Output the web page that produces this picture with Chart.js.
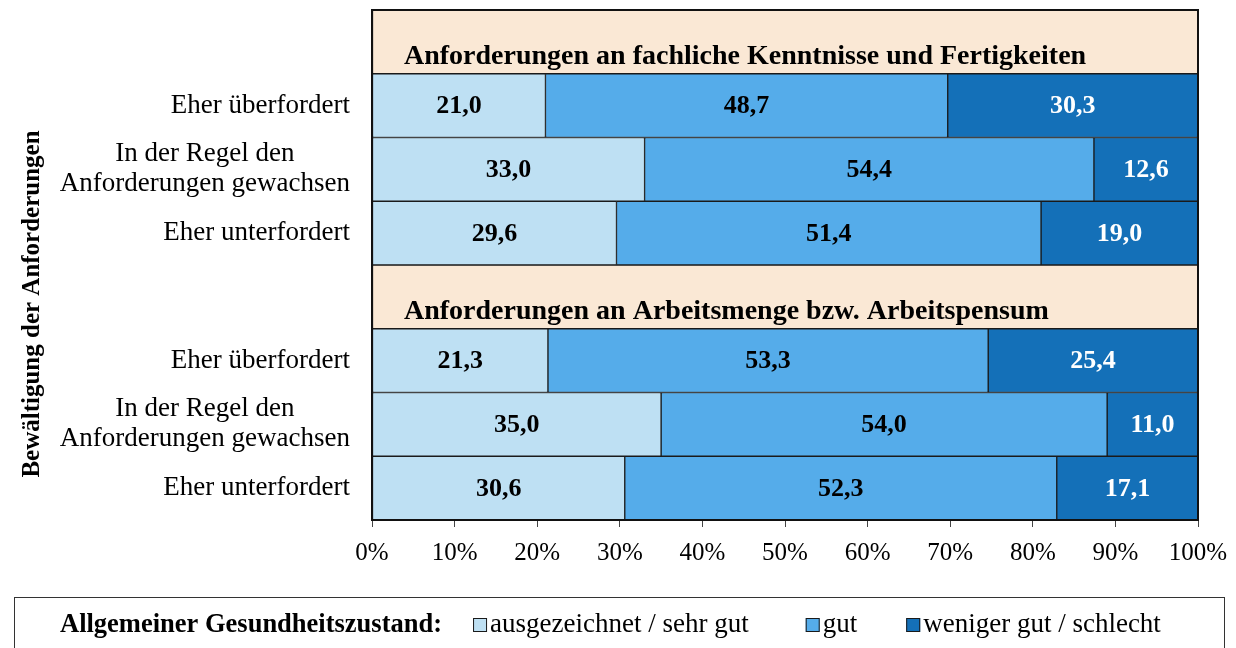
<!DOCTYPE html>
<html>
<head>
<meta charset="utf-8">
<script src="https://cdn.jsdelivr.net/npm/chart.js@4"></script>
<style>
  html, body { margin: 0; padding: 0; background: #fff; }
  #wrap { width: 1236px; height: 648px; }
</style>
</head>
<body>
<div id="wrap"><canvas id="chart" width="1236" height="648"></canvas></div>
<script>
// rows of the chart, top to bottom; "" marks a group header row
const rowLabels = [
  "",
  "Eher überfordert",
  ["In der Regel den", "Anforderungen gewachsen"],
  "Eher unterfordert",
  "",
  "Eher überfordert",
  ["In der Regel den", "Anforderungen gewachsen"],
  "Eher unterfordert",
];
const groupTitles = [
  "Anforderungen an fachliche Kenntnisse und Fertigkeiten",
  "Anforderungen an Arbeitsmenge bzw. Arbeitspensum",
];
const seriesNames = ["ausgezeichnet / sehr gut", "gut", "weniger gut / schlecht"];
const sehrGut = [21.0, 33.0, 29.6, 21.3, 35.0, 30.6];
const gut = [48.7, 54.4, 51.4, 53.3, 54.0, 52.3];
const schlecht = [30.3, 12.6, 19.0, 25.4, 11.0, 17.1];
const xTicks = [0, 10, 20, 30, 40, 50, 60, 70, 80, 90, 100];
const legendTitle = "Allgemeiner Gesundheitszustand:";
const axisTitle = "Bewältigung der Anforderungen";

const colors = ["#bee0f3", "#55acea", "#1470b8"];
const headerColor = "#fae8d5";
const edge = "#1a1a1a";
const serif = "'Liberation Serif', 'Times New Roman', serif";

// put the values into the non-header rows
function spread(values) {
  let k = 0;
  return rowLabels.map((l) => (l === "" ? null : values[k++]));
}
const headerRow = rowLabels.map((l) => (l === "" ? 100 : null));

const fmt = (v) => v.toFixed(1).replace(".", ",");

const decorations = {
  id: "decorations",
  afterDatasetsDraw(chart) {
    const ctx = chart.ctx;
    const area = chart.chartArea;
    const yScale = chart.scales.y;
    const rowH = (area.bottom - area.top) / rowLabels.length;

    ctx.save();
    // value labels inside the segments
    ctx.textAlign = "center";
    ctx.textBaseline = "middle";
    ctx.font = "bold 26px " + serif;
    for (let d = 0; d < 3; d++) {
      const meta = chart.getDatasetMeta(d);
      meta.data.forEach((bar, i) => {
        const v = chart.data.datasets[d].data[i];
        if (v == null) return;
        ctx.fillStyle = d === 2 ? "#ffffff" : "#000000";
        ctx.fillText(fmt(v), (bar.x + bar.base) / 2, bar.y + 1);
      });
    }

    // group header titles
    ctx.textAlign = "left";
    ctx.font = "bold 28px " + serif;
    ctx.fillStyle = "#000";
    let g = 0;
    rowLabels.forEach((l, i) => {
      if (l !== "") return;
      const y = yScale.getPixelForValue(i);
      ctx.fillText(groupTitles[g++], area.left + 32, y + rowH / 2 - 17);
    });

    // row labels
    ctx.font = "27px " + serif;
    const right = area.left - 22;
    rowLabels.forEach((l, i) => {
      if (l === "") return;
      const y = yScale.getPixelForValue(i);
      const lines = Array.isArray(l) ? l : [l];
      const w = Math.max(...lines.map((s) => ctx.measureText(s).width));
      const lh = 30;
      lines.forEach((s, j) => {
        const ly = y + (j - (lines.length - 1) / 2) * lh;
        ctx.textAlign = "center";
        ctx.fillText(s, right - w / 2, ly);
      });
    });

    // frame around the plot
    ctx.strokeStyle = "#111";
    ctx.lineWidth = 2;
    ctx.strokeRect(area.left, area.top, area.right - area.left, area.bottom - area.top);

    // vertical axis title
    ctx.save();
    ctx.translate(33, 304);
    ctx.rotate(-Math.PI / 2);
    ctx.textAlign = "center";
    ctx.font = "bold 25px " + serif;
    ctx.fillText(axisTitle, 0, 0);
    ctx.restore();

    // legend box
    ctx.strokeStyle = "#333";
    ctx.lineWidth = 1;
    ctx.strokeRect(14.5, 597.5, 1210, 70);
    const ly = 625;
    ctx.textAlign = "left";
    ctx.font = "bold 26.5px " + serif;
    ctx.fillText(legendTitle, 60, ly);
    let x = 60 + ctx.measureText(legendTitle).width + 31;
    ctx.font = "27px " + serif;
    const gaps = [57, 49, 0];
    seriesNames.forEach((name, i) => {
      ctx.fillStyle = colors[i];
      ctx.fillRect(x, ly - 7, 14, 14);
      ctx.strokeStyle = edge;
      ctx.strokeRect(x + 0.5, ly - 6.5, 13, 13);
      ctx.fillStyle = "#000";
      ctx.fillText(name, x + 17, ly);
      x += 17 + ctx.measureText(name).width + gaps[i];
    });
    ctx.restore();
  },
};

const datasets = [sehrGut, gut, schlecht].map((vals, i) => ({
  label: seriesNames[i],
  data: spread(vals),
  backgroundColor: colors[i],
  borderColor: edge,
  borderWidth: 1,
  borderSkipped: false,
}));
datasets.push({
  label: "header",
  data: headerRow,
  backgroundColor: headerColor,
  borderColor: edge,
  borderWidth: 1,
  borderSkipped: false,
});

new Chart(document.getElementById("chart"), {
  type: "bar",
  data: {
    labels: rowLabels,
    datasets: datasets,
  },
  options: {
    indexAxis: "y",
    responsive: false,
    animation: false,
    categoryPercentage: 1,
    barPercentage: 1,
    layout: {
      padding: { left: 372, right: 38, top: 10, bottom: 69 },
    },
    scales: {
      x: {
        stacked: true,
        min: 0,
        max: 100,
        afterBuildTicks: (scale) => {
          scale.ticks = xTicks.map((v) => ({ value: v }));
        },
        afterFit: (scale) => {
          // tick labels may overhang; the layout padding already leaves room
          scale.paddingLeft = 0;
          scale.paddingRight = 0;
        },
        ticks: {
          callback: (v) => v + "%",
          color: "#000",
          font: { family: serif, size: 25 },
          padding: 11,
          maxRotation: 0,
        },
        grid: {
          drawOnChartArea: false,
          drawTicks: true,
          tickLength: 7,
          color: "#444",
        },
        border: { display: true, color: "#111", width: 2 },
      },
      y: {
        stacked: true,
        display: false,
      },
    },
    plugins: {
      legend: { display: false },
      tooltip: { enabled: false },
    },
  },
  plugins: [decorations],
});
</script>
</body>
</html>
